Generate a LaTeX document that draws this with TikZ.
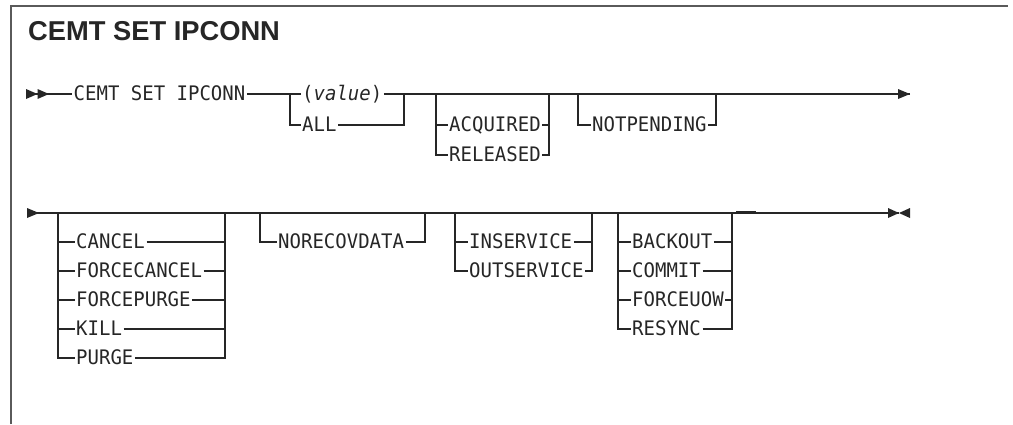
\documentclass[tikz,border=0pt]{standalone}
\usepackage{graphicx}
\usepackage{fontspec}
\setmainfont{Liberation Sans}
\newfontfamily\railfont{DejaVu Sans Mono}
\usepackage{xcolor}
\definecolor{ink}{HTML}{262626}
\definecolor{framegray}{HTML}{5A5A5A}
\newcommand{\railtext}[1]{\scalebox{0.95}[1]{#1}}

\begin{document}
\begin{tikzpicture}[x=1pt, y=-1pt,
  every node/.style={text=ink},
  kw/.style={font=\railfont\fontsize{20}{22}\selectfont, anchor=west, text height=13pt, text depth=0pt, inner xsep=1.5pt, inner ysep=0pt},
  rail/.style={draw=ink, line width=1.3pt},
  tipfill/.style={fill=ink}
]
  \useasboundingbox (0,0) rectangle (1013,424);
  \draw[framegray, line width=1.6pt] (11,424) -- (11,6) -- (1008,6);
  \node[anchor=base west, inner sep=0pt, font=\fontsize{27.3}{30}\selectfont\bfseries] (title) at (28,40) {CEMT SET IPCONN};

  % first line
  \coordinate (r1s) at (26,94);
  \coordinate (r1e) at (910,94);
  \coordinate (g1a) at (290,94);
  \coordinate (g1b) at (404,94);
  \coordinate (g2a) at (436,94);
  \coordinate (g2b) at (549,94);
  \coordinate (g3a) at (578,94);
  \coordinate (g3b) at (716,94);

  \node[kw] (cemt) at (72,94) {\railtext{CEMT SET IPCONN}};
  \node[kw] (val) at (300.5,94) {\railtext{(\textit{value})}};
  \node[kw] (all) at (300.5,125) {\railtext{ALL}};
  \node[kw] (acq) at (447.5,125) {\railtext{ACQUIRED}};
  \node[kw] (rel) at (447.5,155) {\railtext{RELEASED}};
  \node[kw] (notp) at (590.5,125) {\railtext{NOTPENDING}};

  \fill[tipfill] (r1s) ++(0,-5) -- ++(11.5,5) -- ++(-11.5,5) -- cycle;
  \fill[tipfill] (r1s) ++(11.5,-5) -- ++(11.5,5) -- ++(-11.5,5) -- cycle;
  \draw[rail] (r1s) -- (cemt.west);
  \draw[rail] (cemt.east) -- (val.west);
  \draw[rail] (val.east) -- (r1e);
  \fill[tipfill] (r1e) -- ++(-12,-5) -- ++(0,10) -- cycle;

  \draw[rail] (g1a) |- (all.west) (all.east) -| (g1b);
  \draw[rail] (g2a) |- (acq.west) (g2a) |- (rel.west);
  \draw[rail] (acq.east) -| (g2b) (rel.east) -| (g2b);
  \draw[rail] (g3a) |- (notp.west) (notp.east) -| (g3b);

  % second line
  \coordinate (r2s) at (27,213);
  \coordinate (r2e) at (899,213);
  \coordinate (h1a) at (58,213);
  \coordinate (h1b) at (225,213);
  \coordinate (h2a) at (260,213);
  \coordinate (h2b) at (425,213);
  \coordinate (h3a) at (455,213);
  \coordinate (h3b) at (592,213);
  \coordinate (h4a) at (618,213);
  \coordinate (h4b) at (732,213);
  \coordinate (blip) at (736,212.2);

  \node[kw] (cancel) at (74.5,242) {\railtext{CANCEL}};
  \node[kw] (fcancel) at (74.5,271) {\railtext{FORCECANCEL}};
  \node[kw] (fpurge) at (74.5,300) {\railtext{FORCEPURGE}};
  \node[kw] (kill) at (74.5,329) {\railtext{KILL}};
  \node[kw] (purge) at (74.5,358) {\railtext{PURGE}};
  \node[kw] (norecov) at (276.5,242) {\railtext{NORECOVDATA}};
  \node[kw] (insvc) at (467.5,242) {\railtext{INSERVICE}};
  \node[kw] (outsvc) at (467.5,271) {\railtext{OUTSERVICE}};
  \node[kw] (backout) at (630.5,242) {\railtext{BACKOUT}};
  \node[kw] (commit) at (630.5,271) {\railtext{COMMIT}};
  \node[kw] (fuow) at (630.5,300) {\railtext{FORCEUOW}};
  \node[kw] (resync) at (630.5,329) {\railtext{RESYNC}};

  \fill[tipfill] (r2s) ++(0,-5) -- ++(12,5) -- ++(-12,5) -- cycle;
  \draw[rail] (r2s) -- (r2e);
  \draw[ink, line width=2.4pt] (blip) -- ++(20,0);
  \fill[tipfill] (r2e) -- ++(-11,-5) -- ++(0,10) -- cycle;
  \fill[tipfill] (r2e) -- ++(11,-5) -- ++(0,10) -- cycle;

  \draw[rail] (h1a) |- (cancel.west) (h1a) |- (fcancel.west) (h1a) |- (fpurge.west)
    (h1a) |- (kill.west) (h1a) |- (purge.west);
  \draw[rail] (cancel.east) -| (h1b) (fcancel.east) -| (h1b) (fpurge.east) -| (h1b)
    (kill.east) -| (h1b) (purge.east) -| (h1b);
  \draw[rail] (h2a) |- (norecov.west) (norecov.east) -| (h2b);
  \draw[rail] (h3a) |- (insvc.west) (h3a) |- (outsvc.west);
  \draw[rail] (insvc.east) -| (h3b) (outsvc.east) -| (h3b);
  \draw[rail] (h4a) |- (backout.west) (h4a) |- (commit.west) (h4a) |- (fuow.west)
    (h4a) |- (resync.west);
  \draw[rail] (backout.east) -| (h4b) (commit.east) -| (h4b) (fuow.east) -| (h4b)
    (resync.east) -| (h4b);
\end{tikzpicture}
\end{document}
